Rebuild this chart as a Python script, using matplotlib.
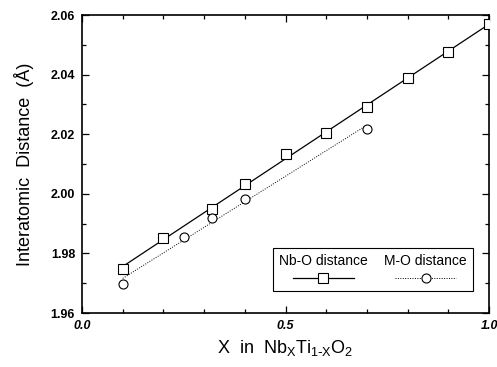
import numpy as np
import matplotlib
matplotlib.use("Agg")
import matplotlib.pyplot as plt
from matplotlib.lines import Line2D
from matplotlib.offsetbox import (
    AnchoredOffsetbox,
    DrawingArea,
    HPacker,
    TextArea,
    VPacker,
)

plt.rcParams["font.family"] = ["Liberation Sans", "DejaVu Sans"]

# Nb-O distance (squares, solid fit line)
nbo_x = [0.1, 0.2, 0.32, 0.4, 0.5, 0.6, 0.7, 0.8, 0.9, 1.0]
nbo_y = [1.9747, 1.9851, 1.9950, 2.0033, 2.0134, 2.0204, 2.0292, 2.0390, 2.0476, 2.0569]

# M-O distance (circles, dotted fit line)
mo_x = [0.1, 0.25, 0.32, 0.4, 0.7]
mo_y = [1.9696, 1.9855, 1.9918, 1.9982, 2.0219]

x_ticks = [0.0, 0.5, 1.0]
x_ticklabels = ["0.0", "0.5", "1.0"]
y_ticks = [1.96, 1.98, 2.00, 2.02, 2.04, 2.06]
y_ticklabels = ["1.96", "1.98", "2.00", "2.02", "2.04", "2.06"]

fig = plt.figure(figsize=(4.97, 3.67), dpi=100)
ax = fig.add_axes([0.165, 0.147, 0.819, 0.812])

mk = dict(markersize=6.5, markerfacecolor="white", markeredgecolor="black",
          markeredgewidth=0.8)

# linear fits drawn over each data range
p1 = np.polyfit(nbo_x, nbo_y, 1)
xs1 = np.array([min(nbo_x), max(nbo_x)])
ax.plot(xs1, np.polyval(p1, xs1), color="black", lw=0.9, zorder=2)
ax.plot(nbo_x, nbo_y, "s", zorder=3, **mk)

p2 = np.polyfit(mo_x, mo_y, 1)
xs2 = np.array([min(mo_x), max(mo_x)])
ax.plot(xs2, np.polyval(p2, xs2), color="black", lw=0.7, ls=(0, (1, 1.5)), zorder=2)
ax.plot(mo_x, mo_y, "o", zorder=3, **mk)

ax.set_xlim(0.0, 1.0)
ax.set_ylim(1.96, 2.06)
ax.set_xticks(x_ticks)
ax.set_xticklabels(x_ticklabels, fontsize=9, fontweight="bold", style="italic")
ax.set_xticks(np.arange(0.1, 1.0, 0.1), minor=True)
ax.set_yticks(y_ticks)
ax.set_yticklabels(y_ticklabels, fontsize=9, fontweight="bold")
ax.set_yticks(np.arange(1.97, 2.06, 0.02), minor=True)
ax.tick_params(which="both", direction="in", top=True, right=True, width=0.9)
ax.tick_params(which="major", length=5, pad=5)
ax.tick_params(which="minor", length=3)
for s in ax.spines.values():
    s.set_linewidth(1.2)

ax.set_ylabel("Interatomic  Distance  (Å)", fontsize=13, labelpad=12)
ax.set_xlabel("X  in  Nb$_\\mathregular{X}$Ti$_\\mathregular{1\\text{-}X}$O$_\\mathregular{2}$",
              fontsize=13, labelpad=4)


# legend: label above its handle
def entry(label, marker, ls, lw):
    w, h = 44, 10
    da = DrawingArea(w, h, 0, 0)
    da.add_artist(Line2D([0, w], [h / 2, h / 2], color="black", lw=lw, ls=ls))
    da.add_artist(Line2D([w / 2], [h / 2], marker=marker, **mk))
    txt = TextArea(label, textprops=dict(fontsize=10))
    return VPacker(children=[txt, da], align="center", pad=0, sep=2)


box = HPacker(children=[entry("Nb-O distance", "s", "-", 0.9),
                        entry("M-O distance", "o", (0, (1, 1.5)), 0.7)],
              align="center", pad=0, sep=12)
leg = AnchoredOffsetbox(loc="lower right", child=box, pad=0.45, borderpad=0,
                        frameon=True, bbox_to_anchor=(0.961, 0.074),
                        bbox_transform=ax.transAxes)
leg.patch.set_edgecolor("black")
leg.patch.set_linewidth(0.8)
leg.patch.set_boxstyle("square", pad=0)
ax.add_artist(leg)

fig.savefig("out.png", dpi=100)
